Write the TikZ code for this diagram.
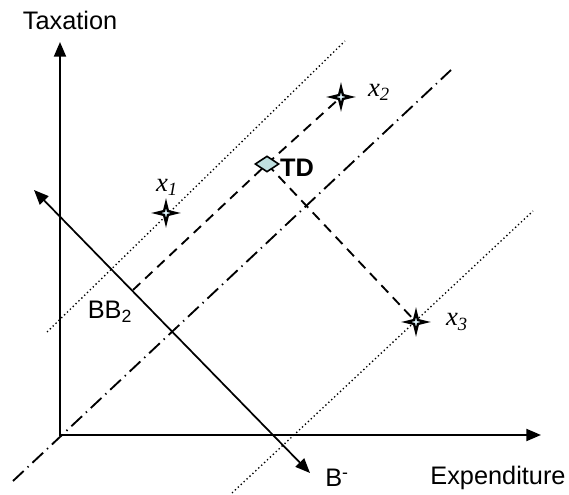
\documentclass[tikz,border=0pt]{standalone}
\usepackage{fontspec}
\setmainfont{Liberation Sans}
\newfontfamily\xfont{Liberation Serif}
\usetikzlibrary{arrows.meta,shapes.geometric,backgrounds}

\newcommand{\xlab}[1]{{\xfont\fontsize{20}{23}\selectfont\itshape x\textsubscript{#1}}}

\begin{document}
\begin{tikzpicture}[
		x=0.75pt,y=-0.75pt,
		>={Triangle[length=11pt,width=9pt]},
		every node/.style={font=\fontsize{19}{22}\selectfont},
		axis/.style={line width=1.5pt,line join=miter},
		budget/.style={line width=1.3pt},
		isodot/.style={line width=1pt,dash pattern=on 1pt off 2pt},
		isodashdot/.style={line width=1.4pt,dash pattern=on 11pt off 4pt on 1pt off 4pt},
		tdline/.style={line width=1.4pt,dash pattern=on 7.5pt off 5pt},
		ptstar/.style={star,star points=4,star point ratio=3.6,draw,line width=1.7pt,
			fill=cyan!12,minimum size=15pt,inner sep=0pt},
		tdbox/.style={diamond,draw,line width=1.2pt,fill=teal!25,
			minimum width=18pt,minimum height=12pt,inner sep=0pt}
		]
		\useasboundingbox (0,0) rectangle (569,495);
		
		% =========================
		% axes
		% =========================
		\coordinate (O) at (60,435);
		\coordinate (ytip) at (60,42);
		\coordinate (xtip) at (541,435);
		\node (tax) at (70,20) {Taxation};
		\node (exp) at (498,478) {Expenditure};
		
		% =========================
		% points
		% =========================
		\node[ptstar] (x1) at (166,213) {};
		\node[ptstar] (x2) at (341,97) {};
		\node[ptstar] (x3) at (416,322) {};
		\node[tdbox] (td) at (267,164) {};
		
		\node (x1lab) at (167,187) {\xlab{1}};
		\node (x2lab) at (379,92) {\xlab{2}};
		\node (x3lab) at (457,322) {\xlab{3}};
		\node[font=\fontsize{19}{22}\selectfont\bfseries] (tdlab) at (297,168) {TD};
		
		% budget line labels
		\node (bb) at (110,312) {BB\textsubscript{2}};
		\node[anchor=base,inner sep=0pt] (bminus) at (337,487) {B\textsuperscript{-}};
		
		% free ends
		\coordinate (u1) at (47,332);
		\coordinate (u2) at (345,41);
		\coordinate (l1) at (232,493);
		\coordinate (l2) at (533,211);
		\coordinate (m1) at (13,481);
		\coordinate (m2) at (451,70);
		\coordinate (dd) at (133,290);
		\coordinate (b1) at (34,190);
		\coordinate (b2) at (310,473);
		
		\begin{scope}[on background layer]
			\draw[axis,<->] (ytip) -- (O) -- (xtip);
			
			% indifference lines
			\draw[isodot] (u1) -- (u2);
			\draw[isodot] (l1) -- (l2);
			\draw[isodashdot] (m1) -- (m2);
			
			% TD line and projection
			\draw[tdline] (dd) -- (td.center) -- (x2.center);
			\draw[tdline] (td.center) -- (x3.center);
			
			% budget arrow
			\draw[budget,<->] (b1) -- (b2);
		\end{scope}
		
	\end{tikzpicture}
\end{document}
